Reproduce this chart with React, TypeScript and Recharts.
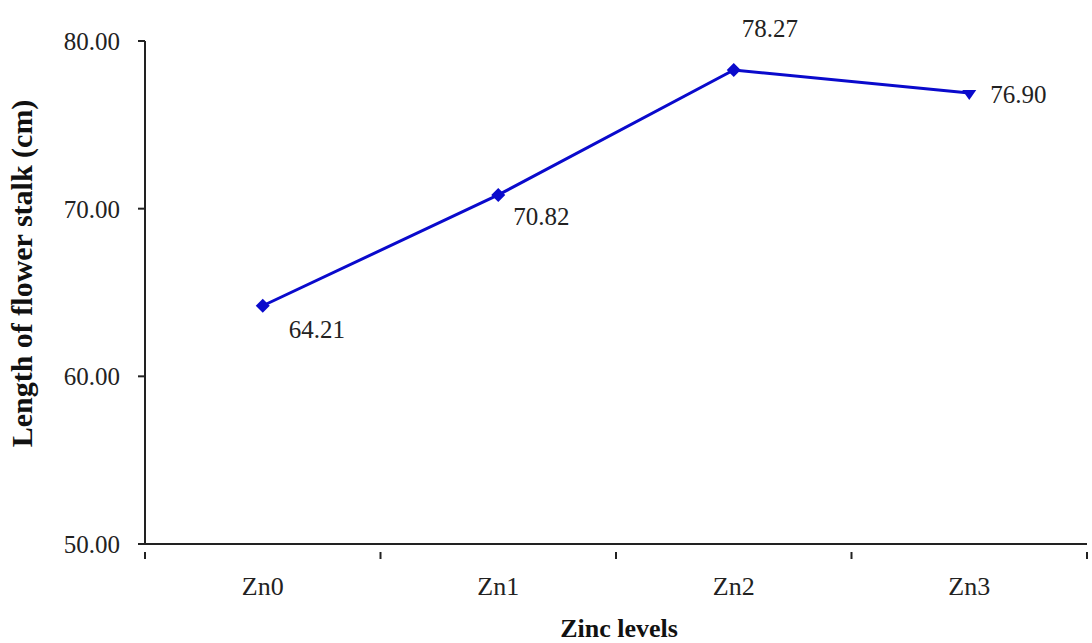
import { LineChart, Line, XAxis, YAxis, LabelList } from "recharts";

const zincLevels = ["Zn0", "Zn1", "Zn2", "Zn3"];
const stalkLength = [64.21, 70.82, 78.27, 76.9];
const yTicks = [50, 60, 70, 80];

// where each value label sits relative to its point (dx, dy of baseline)
const labelPlacement = [
  { dx: 26, dy: 32 },
  { dx: 15, dy: 30 },
  { dx: 8, dy: -33 },
  { dx: 21, dy: 10 },
];

const data = zincLevels.map((level, i) => ({ level, value: stalkLength[i] }));

const serif = "'Liberation Serif', 'Times New Roman', serif";
const blue = "#0a0acc";

function Marker({ cx, cy, index }: any) {
  if (cx == null || cy == null) return null;
  const r = 7;
  // the last marker in the original is drawn as a flat-topped triangle
  const d =
    index === zincLevels.length - 1
      ? `M${cx - r},${cy - 3} L${cx + r},${cy - 3} L${cx},${cy + r} Z`
      : `M${cx},${cy - r} L${cx + r},${cy} L${cx},${cy + r} L${cx - r},${cy} Z`;
  return <path d={d} fill={blue} stroke="none" />;
}

function CategoryTick({ x, y, payload, index }: any) {
  const half = payload?.offset ?? 0;
  const last = index === zincLevels.length - 1;
  return (
    <g>
      <line x1={x - half} x2={x - half} y1={y} y2={y + 7} stroke="#222" strokeWidth={2} />
      {last && <line x1={x + half} x2={x + half} y1={y} y2={y + 7} stroke="#222" strokeWidth={2} />}
      <text x={x} y={y + 43} textAnchor="middle" fontFamily={serif} fontSize={26} fill="#222">
        {payload.value}
      </text>
    </g>
  );
}

function ValueLabel({ x, y, value, index }: any) {
  const p = labelPlacement[index] ?? { dx: 10, dy: -10 };
  return (
    <text x={x + p.dx} y={y + p.dy} fontFamily={serif} fontSize={25} fill="#222">
      {Number(value).toFixed(2)}
    </text>
  );
}

function YTitle({ viewBox }: any) {
  const cx = viewBox.x + 21;
  const cy = viewBox.y + viewBox.height / 2 - 19;
  return (
    <text
      x={cx}
      y={cy}
      transform={`rotate(-90, ${cx}, ${cy})`}
      textAnchor="middle"
      dominantBaseline="central"
      fontFamily={serif}
      fontSize={30}
      fontWeight="bold"
      fill="#111"
    >
      Length of flower stalk (cm)
    </text>
  );
}

export default function App() {
  return (
    <div style={{ position: "absolute", left: 0, top: 0, background: "#fff" }}>
      <LineChart
        width={1092}
        height={643}
        data={data}
        margin={{ top: 41, right: 5, bottom: 0, left: 0 }}
      >
        <XAxis
          dataKey="level"
          scale="band"
          height={99}
          axisLine={{ stroke: "#222", strokeWidth: 2 }}
          tickLine={false}
          tick={<CategoryTick />}
          interval={0}
          label={{
            value: "Zinc levels",
            position: "insideBottom",
            offset: 6,
            dx: 3,
            style: { fontFamily: serif, fontSize: 26, fontWeight: "bold", fill: "#111" },
          }}
        />
        <YAxis
          width={145}
          domain={[50, 80]}
          ticks={yTicks}
          tickFormatter={(v: number) => v.toFixed(2)}
          axisLine={{ stroke: "#222", strokeWidth: 2 }}
          tickLine={{ stroke: "#222", strokeWidth: 2 }}
          tickSize={7}
          tickMargin={18}
          tick={{ fontFamily: serif, fontSize: 25, fill: "#222" }}
          label={<YTitle />}
        />
        <Line
          dataKey="value"
          stroke={blue}
          strokeWidth={3}
          dot={<Marker />}
          activeDot={false}
          isAnimationActive={false}
        >
          <LabelList dataKey="value" content={<ValueLabel />} />
        </Line>
      </LineChart>
    </div>
  );
}
